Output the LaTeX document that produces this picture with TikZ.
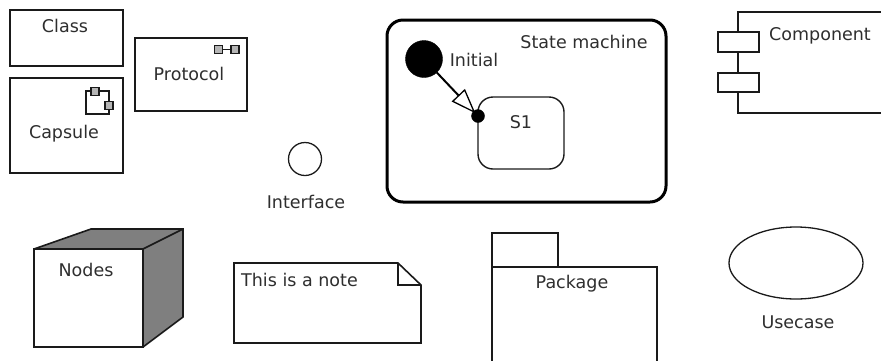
\documentclass[tikz,border=0pt]{standalone}
\usepackage{fontspec}
\setmainfont{DejaVu Sans}
\usetikzlibrary{arrows.meta,shapes.geometric,calc}
\definecolor{inkc}{HTML}{1A1A1A}
\definecolor{txtc}{HTML}{2E2E2E}
\definecolor{cubegray}{HTML}{7F7F7F}
\definecolor{port}{HTML}{B5B5B5}
\tikzset{
  lbl/.style={font=\fontsize{17.5}{19}\selectfont,text=txtc,inner sep=0pt},
  box/.style={draw=inkc,line width=1.6pt,fill=white,inner sep=0pt},
  thin box/.style={draw=inkc,line width=1.3pt,fill=white,inner sep=0pt},
  portbox/.style={draw=inkc,line width=1.3pt,fill=port,inner sep=0pt,minimum size=8pt},
  line/.style={draw=inkc,line width=1.6pt}
}
\begin{document}
\begin{tikzpicture}[x=1pt,y=-1pt]
\useasboundingbox (0,0) rectangle (881,360);
% Class
\node[box,minimum width=113pt,minimum height=56pt] (class) at (66.5,38) {};
\node[lbl] (classT) at (65,26) {Class};
% Protocol
\node[box,minimum width=112pt,minimum height=73pt] (proto) at (191,74.5) {};
\node[lbl] (protoT) at (189,74) {Protocol};
\node[portbox] (pa) at (218.5,49.5) {};
\node[portbox] (pb) at (235,49.5) {};
\draw[line,line width=1.3pt] (pa) -- (pb);
% Capsule
\node[box,minimum width=113pt,minimum height=95pt] (caps) at (66.5,125.5) {};
\node[lbl] (capsT) at (64,134) {Capsule};
\node[thin box,minimum width=23pt,minimum height=23pt] (capsI) at (97.5,102.5) {};
\node[portbox] (cpa) at (95,91.5) {};
\node[portbox] (cpb) at (109,105.5) {};
% State machine
\node[draw=black,line width=3pt,rounded corners=16pt,minimum width=279pt,minimum height=182pt,inner sep=0pt] (sm) at (526.5,111) {};
\node[lbl] (smT) at (584,42) {State machine};
\node[draw=black,fill=black,circle,minimum size=37pt,inner sep=0pt] (init) at (424,59) {};
\node[lbl] (initT) at (474,60) {Initial};
\node[draw=inkc,line width=1.4pt,rounded corners=15pt,minimum width=86pt,minimum height=72pt,inner sep=0pt] (s1) at (521,133) {};
\node[lbl] (s1T) at (521,122) {S1};
\node[draw=black,fill=black,circle,minimum size=13pt,inner sep=0pt] (dot) at (478,116) {};
\draw[draw=black,line width=2pt,shorten >=-3pt,-{Triangle[open,length=25pt,width=18pt,fill=white,line width=1.3pt]}] (init) -- (dot);
% Component
\coordinate (cTop) at (881,12);
\coordinate (cBot) at (881,113);
\draw[line] (cTop) -- (738,12) -- (738,113) -- (cBot);
\node[box,minimum width=41pt,minimum height=20pt] (cpA) at (738.5,42) {};
\node[box,minimum width=41pt,minimum height=19pt] (cpB) at (738.5,82.5) {};
\node[lbl,anchor=west] (compT) at (769,36) {Component};
% Interface
\node[draw=inkc,line width=1.3pt,circle,minimum size=33pt,inner sep=0pt] (iface) at (305,159) {};
\node[lbl] (ifaceT) at (306,202) {Interface};
% Nodes
\fill[cubegray] (34,249) -- (91,229) -- (183,229) -- (183,317) -- (143,347) -- cycle;
\draw[line] (34,249) -- (91,229) -- (183,229) -- (183,317) -- (143,347);
\draw[line] (143,249) -- (183,229);
\node[box,minimum width=109pt,minimum height=98pt] (nodeF) at (88.5,298) {};
\node[lbl] (nodeT) at (86,270) {Nodes};
% Note
\draw[line,fill=white] (234,263) -- (398,263) -- (421,285) -- (421,343) -- (234,343) -- cycle;
\draw[line] (398,263) -- (398,285) -- (421,285);
\node[lbl,anchor=west] (noteT) at (241,280) {This is a note};
% Package
\node[thin box,minimum width=66pt,minimum height=34pt] (tab) at (525,250) {};
\draw[line,line width=1.3pt] (492,362) -- (492,267) -- (657,267) -- (657,362);
\node[lbl] (pkgT) at (572,284) {Package};
% Usecase
\node[draw=inkc,line width=1.3pt,ellipse,minimum width=134pt,minimum height=72pt,inner sep=0pt] (uc) at (796,263) {};
\node[lbl] (ucT) at (798,322) {Usecase};
\end{tikzpicture}
\end{document}
